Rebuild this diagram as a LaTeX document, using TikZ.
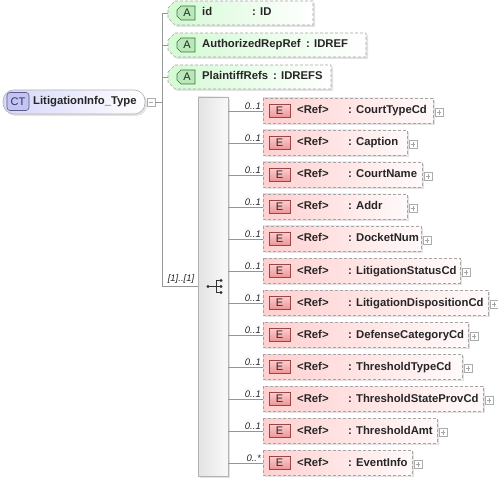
\documentclass[tikz,border=0pt]{standalone}
\usepackage{fontspec}
\setmainfont{Liberation Sans}
\usetikzlibrary{positioning}

\definecolor{dashgray}{RGB}{165,165,165}
\definecolor{linkgray}{RGB}{150,150,150}
\definecolor{elpink}{RGB}{255,208,208}
\definecolor{elpinkr}{RGB}{255,250,250}
\definecolor{ebadgetop}{RGB}{255,205,205}
\definecolor{ebadgebot}{RGB}{238,150,150}
\definecolor{ebadgeline}{RGB}{150,70,70}
\definecolor{attgreen}{RGB}{212,250,212}
\definecolor{abadgefill}{RGB}{185,232,185}
\definecolor{abadgeline}{RGB}{60,115,60}
\definecolor{ctlav}{RGB}{214,214,250}
\definecolor{ctbadgefill}{RGB}{196,196,242}
\definecolor{ctbadgeline}{RGB}{90,90,140}
\definecolor{cttext}{RGB}{50,50,100}

\begin{document}
\begin{tikzpicture}[x=1pt,y=-1pt,
    every node/.style={inner sep=0pt},
    lbl/.style={font=\fontsize{11.3}{13}\selectfont\bfseries, anchor=west, text=black!85,
                text height=8pt, text depth=2pt},
    badgetxt/.style={font=\fontsize{11}{13}\selectfont, text=black!85},
    card/.style={font=\fontsize{9.5}{11}\selectfont\itshape, anchor=south east, text=black!85},
    dashbox/.style={draw=dashgray, dash pattern=on 3pt off 2pt, line width=0.6pt},
    shade/.style={fill=black!11},
    link/.style={draw=linkgray, line width=0.6pt},
    plusbox/.style={draw=gray!65, fill=white, line width=0.5pt, minimum size=8pt},
    ebadge/.style={draw=ebadgeline, top color=ebadgetop, bottom color=ebadgebot,
                   line width=0.6pt, minimum width=21pt, minimum height=13pt, badgetxt},
    abadge/.style={draw=abadgeline, fill=abadgefill, line width=0.6pt},
    seqbox/.style={draw=gray!60, left color=gray!22, right color=gray!5, line width=0.6pt}
]
    \useasboundingbox (0,0) rectangle (498,481);

    % Complex type
    \fill[shade, rounded corners=11pt] (5,92) rectangle (147,116);
    \node[draw=gray!60, left color=ctlav, right color=white, line width=0.6pt,
          rounded corners=11pt, minimum width=142pt, minimum height=24pt] (ct) at (74,102) {};
    \node[draw=ctbadgeline, fill=ctbadgefill, rounded corners=3pt, line width=0.6pt,
          minimum width=22pt, minimum height=18pt, badgetxt, text=cttext] (ctb) at (18,101.5) {CT};
    \node[lbl] (ctname) at (33,102) {LitigationInfo\_Type};
    \node[plusbox] (minus) at (151,102) {};
    \draw[gray!70] ([xshift=2pt]minus.west) -- ([xshift=-2pt]minus.east);

    \coordinate (fork) at (162,102);
    \draw[link] (minus.east) -- (fork);

    % Attributes
    \foreach \i/\nm/\tp/\tx/\rx/\y in {
        1/id/ID/252/313/13,
        2/AuthorizedRepRef/IDREF/306/366/45,
        3/PlaintiffRefs/IDREFS/273/331/77
    } {
        \fill[shade] (170,\y-3) -- (177,\y-10) -- (\rx+2,\y-10) -- (\rx+2,\y+14)
            -- (177,\y+14) -- (170,\y+7) -- cycle;
        \path[dashbox, left color=attgreen, right color=white] (168,\y-5) -- (175,\y-12)
            -- (\rx,\y-12) -- (\rx,\y+12) -- (175,\y+12) -- (168,\y+5) -- cycle;
        \coordinate (a\i) at (168,\y);
        \path[abadge] (177,\y-3) -- (181,\y-7) -- (195,\y-7) -- (195,\y+7) -- (181,\y+7)
            -- (177,\y+3) -- cycle;
        \node[badgetxt] (ab\i) at (187,\y) {A};
        \node[lbl] (an\i) at (202,\y) {\nm};
        \node[lbl] (at\i) at (\tx,\y) {: \tp};
        \draw[link] (fork |- a\i) -- (a\i);
    }

    % Sequence compartment
    \fill[shade] (200,99) rectangle (230,478);
    \node[seqbox, minimum width=30pt, minimum height=379pt] (seq) at (213,286.5) {};
    \draw[link] (fork |- a1) -- (fork |- seq.west) -- (seq.west);
    \node[card, anchor=south] (seqcard) at (181,284) {[1]..[1]};

    % Sequence symbol
    \fill[black!80] (208,286.5) circle (1.7pt);
    \draw[black!80, line width=0.8pt] (208,286.5) -- (216,286.5) (216,280.5) -- (216,292.5);
    \foreach \yy in {280.5,286.5,292.5} {
        \draw[black!80, line width=0.8pt] (216,\yy) -- (221,\yy);
        \fill[black!80] (221,\yy) circle (1.7pt);
    }

    % Elements
    \foreach \i/\nm/\rx/\cd in {
        1/CourtTypeCd/433/0..1,
        2/Caption/407/0..1,
        3/CourtName/422/0..1,
        4/Addr/407/0..1,
        5/DocketNum/421/0..1,
        6/LitigationStatusCd/460/0..1,
        7/LitigationDispositionCd/488/0..1,
        8/DefenseCategoryCd/468/0..1,
        9/ThresholdTypeCd/462/0..1,
        10/ThresholdStateProvCd/483/0..1,
        11/ThresholdAmt/437/0..1,
        12/EventInfo/412/0..*
    } {
        \pgfmathsetmacro{\y}{111+32*(\i-1)}
        \fill[shade] (265,\y-11) rectangle (\rx+2,\y+14);
        \path[dashbox, left color=elpink, right color=elpinkr] (263,\y-13) rectangle (\rx,\y+12);
        \coordinate (e\i) at (263,\y);
        \node[ebadge] (eb\i) at (279.5,\y-0.5) {E};
        \node[lbl] (er\i) at (297,\y) {<Ref>};
        \node[lbl] (en\i) at (348,\y) {: \nm};
        \node[plusbox] (p\i) at (\rx+6,\y+1.5) {};
        \draw[gray!70] ([xshift=2pt]p\i.west) -- ([xshift=-2pt]p\i.east)
            ([yshift=2pt]p\i.south) -- ([yshift=-2pt]p\i.north);
        \draw[link] (seq.east |- e\i) -- (e\i);
        \node[card] (c\i) at (261,\y-1) {\cd};
    }
\end{tikzpicture}
\end{document}
